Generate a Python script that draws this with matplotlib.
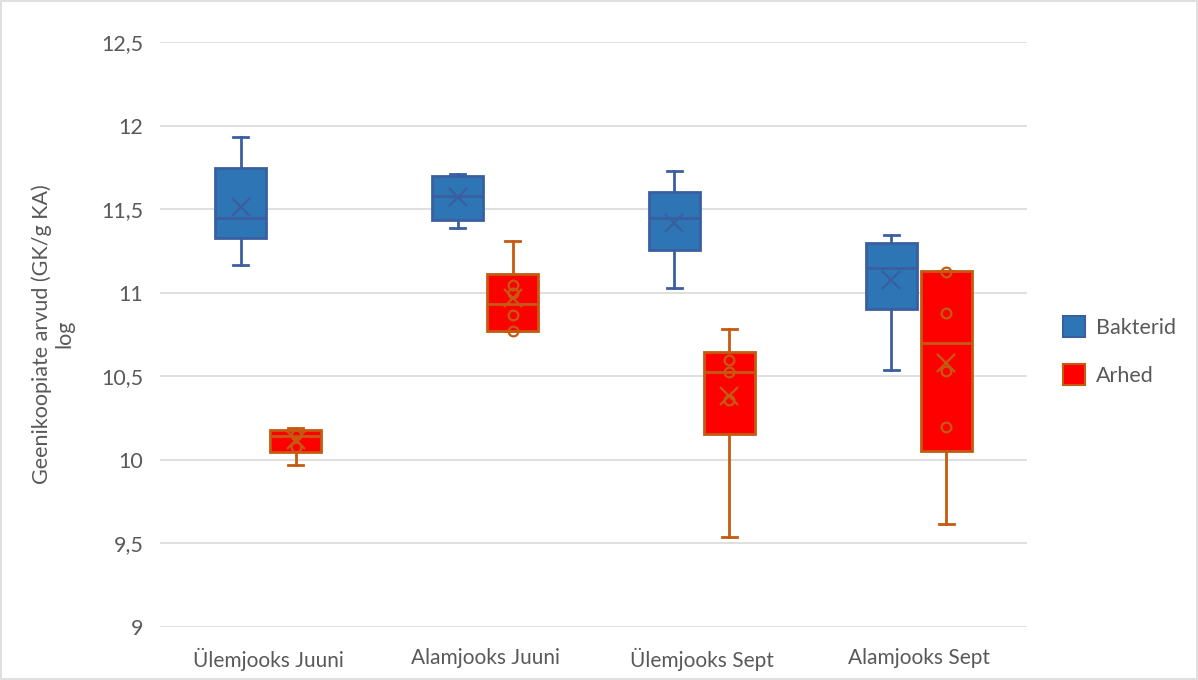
import matplotlib.pyplot as plt
from matplotlib.patches import Patch

plt.rcParams['font.family'] = ['Lato', 'DejaVu Sans']

categories = ['Ülemjooks Juuni', 'Alamjooks Juuni', 'Ülemjooks Sept', 'Alamjooks Sept']

# five-number summaries + mean per category
bakt_low = [11.165, 11.386, 11.03, 10.536]
bakt_q1 = [11.326, 11.435, 11.255, 10.90]
bakt_med = [11.45, 11.58, 11.45, 11.147]
bakt_q3 = [11.745, 11.70, 11.60, 11.30]
bakt_high = [11.93, 11.71, 11.73, 11.344]
bakt_mean = [11.51, 11.57, 11.42, 11.075]

arh_low = [9.97, 10.77, 9.536, 9.614]
arh_q1 = [10.045, 10.77, 10.153, 10.05]
arh_med = [10.14, 10.93, 10.525, 10.70]
arh_q3 = [10.18, 11.11, 10.645, 11.13]
arh_high = [10.19, 11.31, 10.78, 11.13]
arh_mean = [10.12, 10.97, 10.38, 10.578]

# inner points shown for Arhed
arh_points = [
    [10.147, 10.075],
    [11.045, 11.0, 10.865, 10.77],
    [10.6, 10.525, 10.36],
    [11.125, 10.88, 10.53, 10.195],
]

blue_fill, blue_edge = '#2E75B6', '#3A5FA0'
red_fill, red_edge = '#FF0000', '#C55A11'
grid_col = '#D9D9D9'
text_col = '#595959'


def make_stats(low, q1, med, q3, high, mean):
    return [dict(whislo=a, q1=b, med=c, q3=d, whishi=e, mean=f, fliers=[])
            for a, b, c, d, e, f in zip(low, q1, med, q3, high, mean)]


fig = plt.figure(figsize=(11.98, 6.8), dpi=100)
ax = fig.add_axes([160 / 1198, 1 - 627 / 680, (1027 - 160) / 1198, (627 - 42) / 680])

x = list(range(len(categories)))
off = 0.127
w = 0.235


def draw(stats, pos, fill, edge):
    ax.bxp(stats, positions=pos, widths=w, capwidths=0.07, showmeans=True,
           patch_artist=True, manage_ticks=False,
           boxprops=dict(facecolor=fill, edgecolor=edge, linewidth=2),
           medianprops=dict(color=edge, linewidth=2),
           whiskerprops=dict(color=edge, linewidth=2),
           capprops=dict(color=edge, linewidth=2),
           meanprops=dict(marker='x', markeredgecolor=edge, markersize=13,
                          markeredgewidth=1.6))


draw(make_stats(bakt_low, bakt_q1, bakt_med, bakt_q3, bakt_high, bakt_mean),
     [i - off for i in x], blue_fill, blue_edge)
draw(make_stats(arh_low, arh_q1, arh_med, arh_q3, arh_high, arh_mean),
     [i + off for i in x], red_fill, red_edge)

for i, pts in enumerate(arh_points):
    ax.plot([i + off] * len(pts), pts, 'o', markerfacecolor='none',
            markeredgecolor=red_edge, markersize=7, markeredgewidth=1.6, zorder=4)

ax.set_xlim(-0.5, 3.5)
ax.set_ylim(9, 12.5)
yt = [9, 9.5, 10, 10.5, 11, 11.5, 12, 12.5]
ax.set_yticks(yt)
ax.set_yticklabels([f'{v:g}'.replace('.', ',') for v in yt])
ax.set_xticks(x)
ax.set_xticklabels(categories)
ax.tick_params(length=0, labelsize=15, colors=text_col)
ax.tick_params(axis='x', pad=15)
ax.tick_params(axis='y', pad=12, labelsize=15.5)
ax.grid(axis='y', color=grid_col, linewidth=1.2)
ax.set_axisbelow(True)
for s in ax.spines.values():
    s.set_visible(False)

fig.text(53 / 1198, 1 - 334 / 680, 'Geenikoopiate arvud (GK/g KA)\nlog',
         rotation=90, ha='center', va='center', fontsize=15.5, color=text_col,
         linespacing=1.15)

handles = [Patch(facecolor=blue_fill, edgecolor=blue_edge, linewidth=1.5, label='Bakterid'),
           Patch(facecolor=red_fill, edgecolor=red_edge, linewidth=1.5, label='Arhed')]
fig.legend(handles=handles, loc='center left', bbox_to_anchor=(1044 / 1198, 1 - 351 / 680),
           frameon=False, fontsize=15.5, labelcolor=text_col, handlelength=1.0,
           handleheight=1.1, handletextpad=0.5, labelspacing=1.25)

# light border around the whole chart
fig.patches.append(plt.Rectangle((0.001, 0.001), 0.998, 0.997, transform=fig.transFigure,
                                 fill=False, edgecolor=grid_col, linewidth=1.2))

fig.savefig('out.png', dpi=100)
